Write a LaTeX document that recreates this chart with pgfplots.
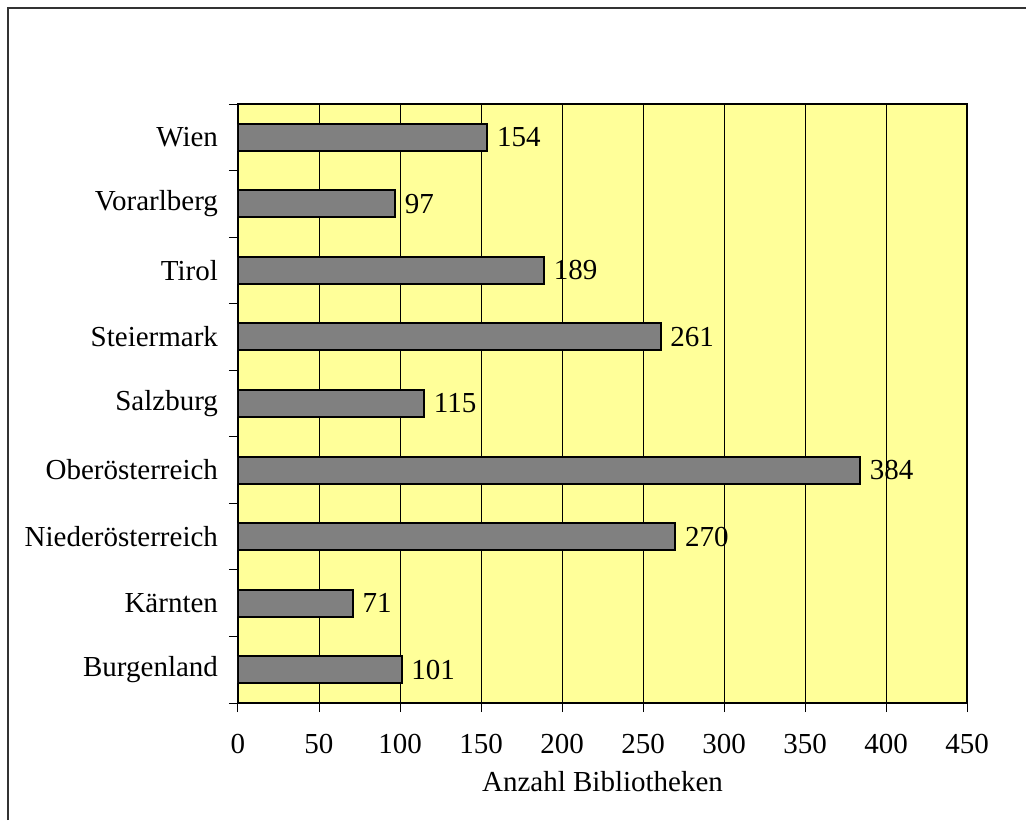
\documentclass[border=0pt]{standalone}
\usepackage{pgfplots}
\pgfplotsset{compat=1.18}
\usepackage{fontspec}
\setmainfont{Liberation Serif}
\definecolor{plotbg}{HTML}{FFFF99}
\definecolor{bargray}{HTML}{808080}
\begin{document}
\begin{tikzpicture}
\useasboundingbox (-119pt,-58.5pt) rectangle (394pt,351.5pt);
% outer frame (top and left edge only visible)
\draw[line width=1pt, black!80] (-114.75pt,-58.5pt) -- (-114.75pt,347.25pt) -- (394pt,347.25pt);
\begin{axis}[
    at={(0,0)}, anchor=south west,
    scale only axis,
    width=364.5pt, height=299.5pt,
    xbar,
    bar width=13.5pt,
    xmin=0, xmax=450,
    ymin=-0.5, ymax=8.5,
    xtick={0,50,...,450},
    ytick={-0.5,0.5,...,8.5},
    y tick label as interval,
    yticklabels={Burgenland,Kärnten,Niederösterreich,Oberösterreich,Salzburg,Steiermark,Tirol,Vorarlberg,Wien},
    xtick pos=left, ytick pos=left,
    tick align=outside,
    major tick length=4.5pt,
    tick style={black, line width=0.5pt},
    xmajorgrids,
    grid style={black, line width=0.5pt},
    axis background/.style={fill=plotbg},
    axis line style={line width=1.2pt},
    tick label style={font=\fontsize{14.5}{17}\selectfont},
    /pgf/number format/assume math mode=true,
    xticklabel style={yshift=-7.5pt},
    yticklabel style={xshift=-2pt},
    xlabel={Anzahl Bibliotheken},
    xlabel style={font=\fontsize{14.5}{17}\selectfont, yshift=-2pt},
    nodes near coords,
    every node near coord/.append style={font=\fontsize{14.5}{17}\selectfont, black, xshift=1pt},
]
\addplot[fill=bargray, draw=black, line width=1pt] coordinates {
    (101,0) (71,1) (270,2) (384,3) (115,4) (261,5) (189,6) (97,7) (154,8)
};
\end{axis}
\end{tikzpicture}
\end{document}
